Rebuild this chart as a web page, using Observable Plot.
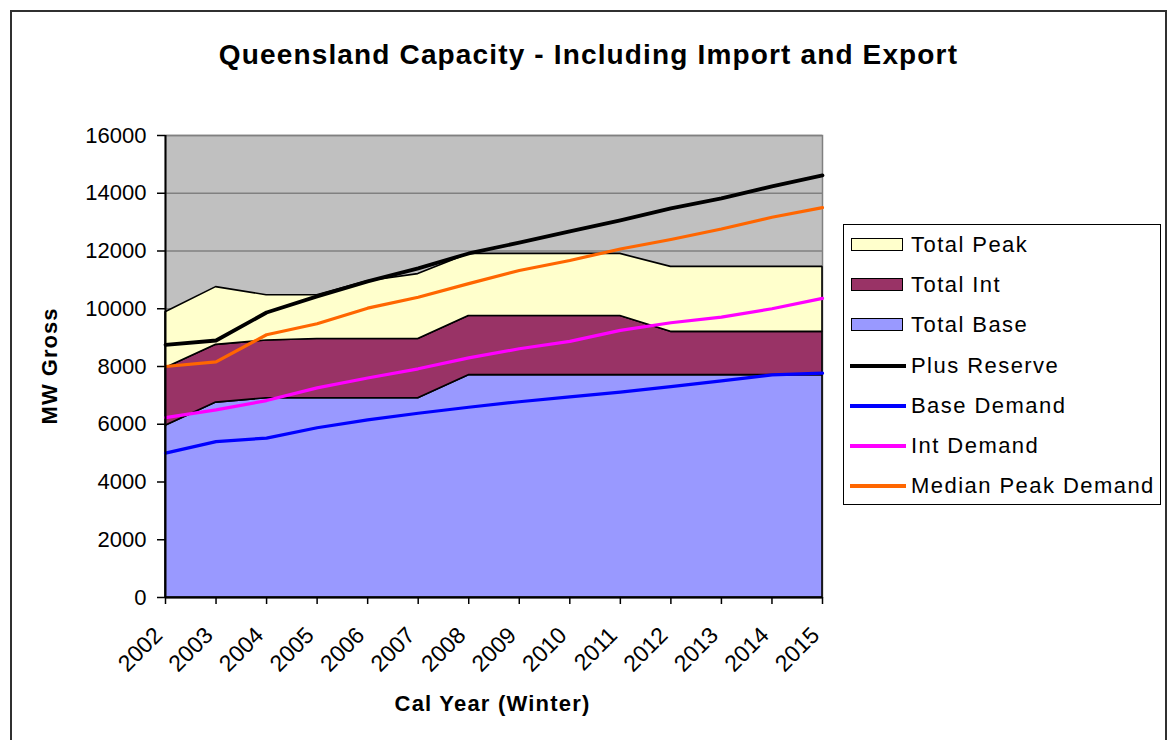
<!DOCTYPE html>
<html>
<head>
<meta charset="utf-8">
<script src="https://cdn.jsdelivr.net/npm/d3@7"></script>
<script src="https://cdn.jsdelivr.net/npm/@observablehq/plot@0.6"></script>
<style>
  html, body { margin: 0; padding: 0; background: #fff; }
  #wrap { position: relative; width: 1172px; height: 740px; overflow: hidden; font-family: "Liberation Sans", Arial, sans-serif; color: #000; }
  #border { position: absolute; left: 10px; top: 10px; width: 1157px; height: 760px; border: 2px solid #303030; box-sizing: border-box; }
  #chart { position: absolute; left: 0; top: 0; }
  #title { position: absolute; left: 0; width: 1177px; top: 38px; line-height: 34px; text-align: center; font-weight: bold; font-size: 28px; letter-spacing: 1.15px; }
  #xtitle { position: absolute; left: 0; width: 985px; top: 690px; line-height: 28px; text-align: center; font-weight: bold; font-size: 22px; letter-spacing: 1.2px; }
  #ytitle { position: absolute; left: 50px; top: 366px; transform: translate(-50%, -50%) rotate(-90deg); font-weight: bold; font-size: 22px; white-space: nowrap; letter-spacing: 1px; }
  #legend { position: absolute; left: 843px; top: 224px; width: 318px; height: 281px; border: 1px solid #000; box-sizing: border-box; background: #fff; }
  .row { position: absolute; left: 0; height: 30px; width: 316px; }
  .sw-fill { position: absolute; left: 7px; top: 8px; width: 52px; height: 13px; border: 1.5px solid #000; box-sizing: border-box; }
  .sw-line { position: absolute; left: 6px; top: 13px; width: 56px; height: 3.5px; }
  .lbl { position: absolute; left: 67px; top: 0; line-height: 30px; font-size: 22px; letter-spacing: 1.45px; white-space: nowrap; }
</style>
</head>
<body>
<div id="wrap">
  <div id="border"></div>
  <div id="chart"></div>
  <div id="title"></div>
  <div id="xtitle"></div>
  <div id="ytitle"></div>
  <div id="legend"></div>
</div>
<script>
// ---- data ----
const title = "Queensland Capacity - Including Import and Export";
const xTitle = "Cal Year (Winter)";
const yTitle = "MW Gross";
const years = [2002, 2003, 2004, 2005, 2006, 2007, 2008, 2009, 2010, 2011, 2012, 2013, 2014, 2015];
const yTicks = [0, 2000, 4000, 6000, 8000, 10000, 12000, 14000, 16000];

// stacked area layers (MW)
const totalBase = [5950, 6750, 6900, 6900, 6900, 6900, 7700, 7700, 7700, 7700, 7700, 7700, 7700, 7700];
const totalInt  = [2000, 2000, 2000, 2050, 2050, 2050, 2050, 2050, 2050, 2050, 1500, 1500, 1500, 1500];
const totalPeak = [1930, 2000, 1570, 1520, 2000, 2250, 2150, 2150, 2150, 2150, 2250, 2250, 2250, 2250];

// line series (MW)
const plusReserve = [8750, 8900, 9870, 10430, 10950, 11400, 11915, 12290, 12680, 13060, 13475, 13820, 14240, 14620];
const baseDemand  = [5000, 5400, 5520, 5880, 6150, 6380, 6590, 6780, 6950, 7110, 7300, 7500, 7710, 7770];
const intDemand   = [6230, 6500, 6820, 7260, 7600, 7920, 8300, 8615, 8870, 9250, 9515, 9710, 10000, 10360];
const medianPeak  = [8000, 8160, 9100, 9480, 10020, 10400, 10870, 11325, 11670, 12070, 12400, 12760, 13170, 13500];

const areaSeries = [
  {name: "Total Peak", values: totalPeak, color: "#FFFFCC"},
  {name: "Total Int",  values: totalInt,  color: "#993366"},
  {name: "Total Base", values: totalBase, color: "#9999FF"}
];
const lineSeries = [
  {name: "Plus Reserve",       values: plusReserve, color: "#000000"},
  {name: "Base Demand",        values: baseDemand,  color: "#0000FF"},
  {name: "Int Demand",         values: intDemand,   color: "#FF00FF"},
  {name: "Median Peak Demand", values: medianPeak,  color: "#FF6600"}
];

// ---- build stacked table (bottom-up: base, int, peak) ----
const stackOrder = [areaSeries[2], areaSeries[1], areaSeries[0]];
const areaRows = [];
years.forEach((yr, i) => {
  let acc = 0;
  for (const s of stackOrder) {
    const lo = acc, hi = acc + s.values[i];
    areaRows.push({year: yr, series: s.name, lo, hi});
    acc = hi;
  }
});
const lineRows = [];
for (const s of lineSeries) years.forEach((yr, i) => lineRows.push({year: yr, series: s.name, value: s.values[i]}));

const marks = [
  Plot.frame({fill: "#C0C0C0", stroke: "#808080", strokeWidth: 1.5}),
  Plot.gridY(yTicks, {stroke: "#808080", strokeOpacity: 1, strokeWidth: 1.5})
];
for (const s of stackOrder) {
  marks.push(Plot.areaY(areaRows.filter(d => d.series === s.name), {
    x: "year", y1: "lo", y2: "hi", fill: s.color, fillOpacity: 1, stroke: "#000", strokeWidth: 1.6, strokeLinejoin: "miter"
  }));
}
for (const s of lineSeries) {
  marks.push(Plot.lineY(lineRows.filter(d => d.series === s.name), {
    x: "year", y: "value", stroke: s.color, strokeWidth: s.name === "Plus Reserve" ? 3.8 : 3.2, strokeLinejoin: "round"
  }));
}
marks.push(
  Plot.ruleX([years[0]], {stroke: "#000", strokeWidth: 2}),
  Plot.ruleY([0], {stroke: "#000", strokeWidth: 2}),
  Plot.axisY({ticks: yTicks, tickFormat: d => String(d), tickSize: 8, tickPadding: 11, fontSize: 22, label: null, stroke: "#000", strokeWidth: 1.5}),
  // tick marks only
  Plot.axisX({ticks: years, tickFormat: () => "", tickSize: 7, label: null, stroke: "#000", strokeWidth: 1.5}),
  // rotated labels only, nudged left like the original
  Plot.axisX({ticks: years, tickFormat: d => String(d), tickSize: 0, tickPadding: 34, dx: -7, tickRotate: -45, fontSize: 23, label: null})
);

const chart = Plot.plot({
  width: 1172,
  height: 740,
  marginLeft: 165,
  marginRight: 350,
  marginTop: 135,
  marginBottom: 143,
  style: {background: "transparent", fontFamily: "'Liberation Sans', Arial, sans-serif", fontSize: "22px", color: "#000"},
  x: {type: "linear", domain: [years[0], years[years.length - 1]]},
  y: {domain: [0, 16000]},
  marks
});
document.getElementById("chart").appendChild(chart);

document.getElementById("title").textContent = title;
document.getElementById("xtitle").textContent = xTitle;
document.getElementById("ytitle").textContent = yTitle;

// ---- legend ----
const legend = document.getElementById("legend");
const rowTops = [5, 45, 85, 126, 166, 206, 246];
const legendItems = [
  ...areaSeries.map(s => ({...s, kind: "fill"})),
  ...lineSeries.map(s => ({...s, kind: "line"}))
];
legendItems.forEach((it, i) => {
  const row = document.createElement("div");
  row.className = "row";
  row.style.top = rowTops[i] + "px";
  const sw = document.createElement("div");
  sw.className = it.kind === "fill" ? "sw-fill" : "sw-line";
  sw.style.background = it.color;
  const lbl = document.createElement("div");
  lbl.className = "lbl";
  lbl.textContent = it.name;
  row.appendChild(sw);
  row.appendChild(lbl);
  legend.appendChild(row);
});
</script>
</body>
</html>
